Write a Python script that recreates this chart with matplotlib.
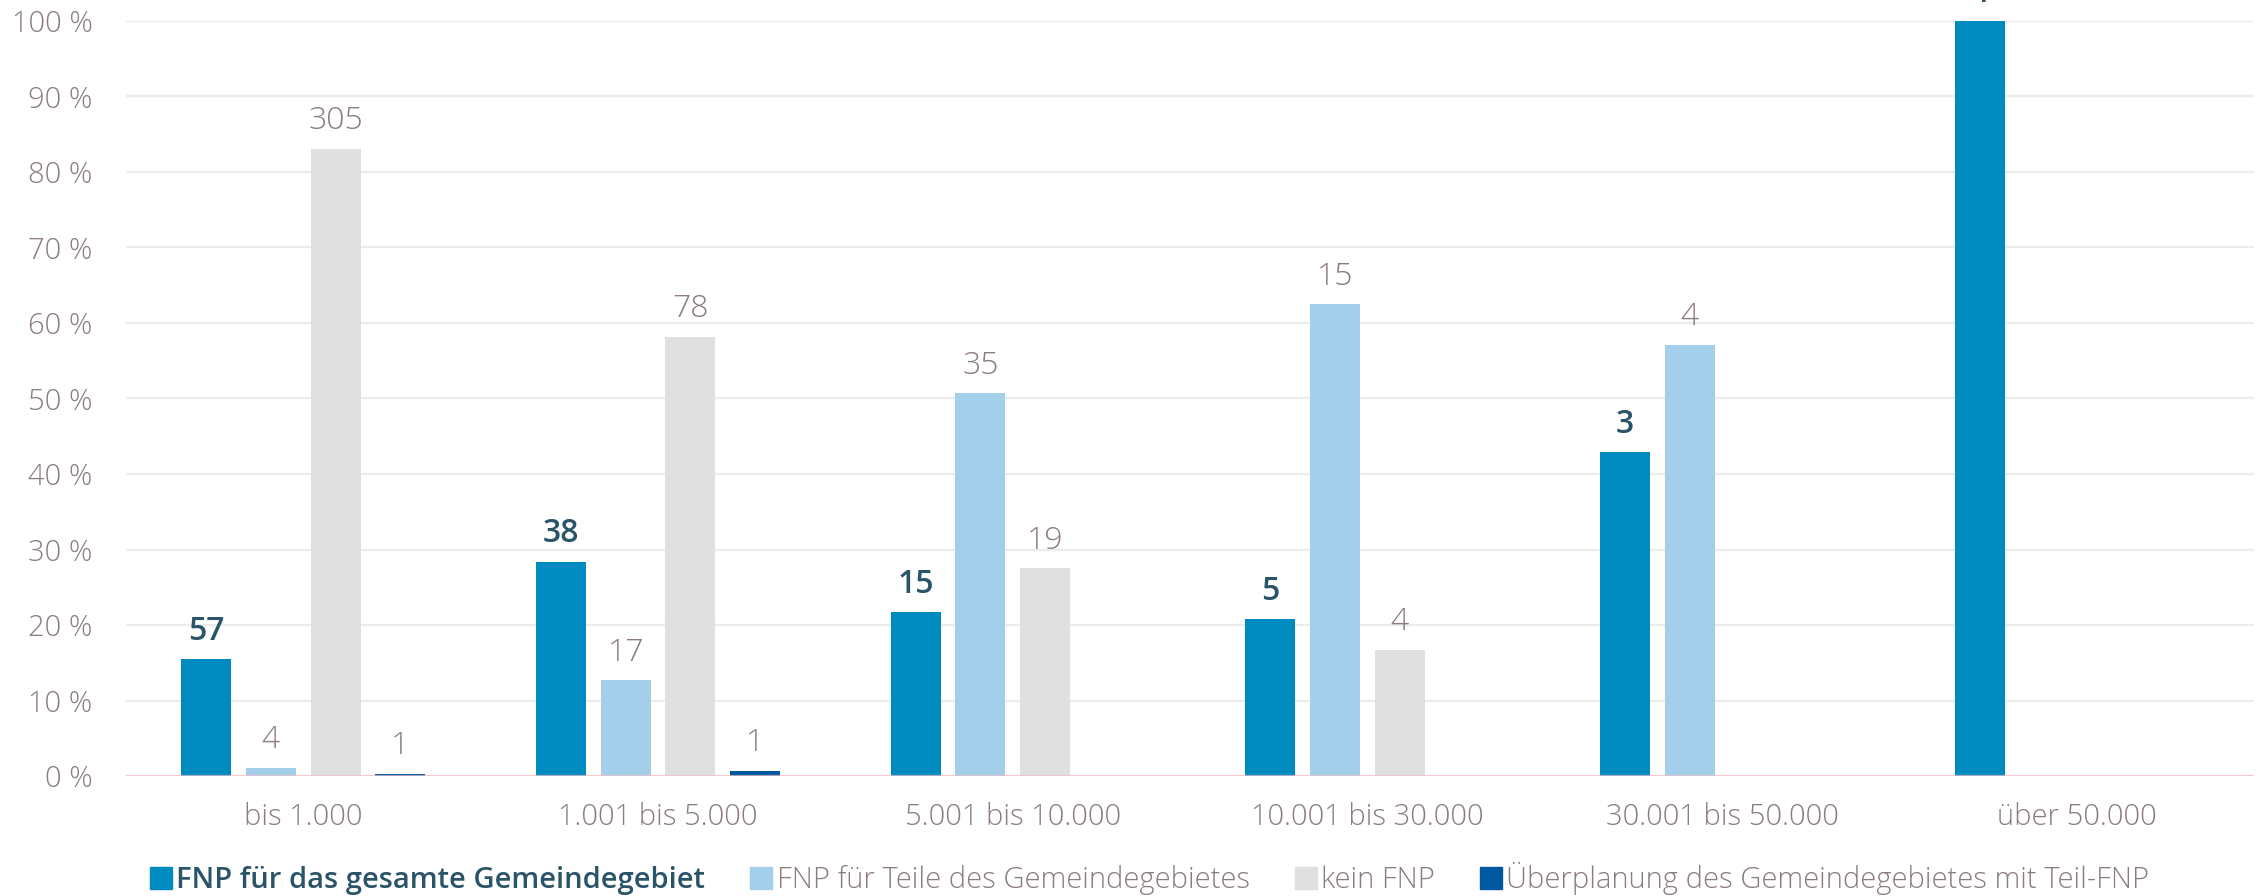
import matplotlib
matplotlib.use('Agg')
import matplotlib.pyplot as plt
from matplotlib.patches import Patch
import numpy as np

plt.rcParams['font.family'] = ['Open Sans', 'DejaVu Sans']

categories = ['bis 1.000', '1.001 bis 5.000', '5.001 bis 10.000',
              '10.001 bis 30.000', '30.001 bis 50.000', 'über 50.000']
series_names = ['FNP für das gesamte Gemeindegebiet',
                'FNP für Teile des Gemeindegebietes',
                'kein FNP',
                'Überplanung des Gemeindegebietes mit Teil-FNP']
# share in percent (bar heights)
pct_gesamt = [15.5, 28.4, 21.7, 20.8, 42.9, 100.0]
pct_teile = [1.1, 12.7, 50.7, 62.5, 57.1, 0.0]
pct_kein = [83.1, 58.2, 27.5, 16.7, 0.0, 0.0]
pct_ueber = [0.3, 0.7, 0.0, 0.0, 0.0, 0.0]
# counts (bar labels)
cnt_gesamt = [57, 38, 15, 5, 3, 4]
cnt_teile = [4, 17, 35, 15, 4, None]
cnt_kein = [305, 78, 19, 4, None, None]
cnt_ueber = [1, 1, None, None, None, None]
yticks = [0, 10, 20, 30, 40, 50, 60, 70, 80, 90, 100]

colors = ['#008BC0', '#A4CFEB', '#E0E0E0', '#0059A0']
dark = '#2A5467'
gray = '#8C7C7C'

W, H = 2264, 896
fig = plt.figure(figsize=(W / 100, H / 100), dpi=100)
ax = fig.add_axes([126 / W, 120 / H, 2128 / W, 755 / H])

x = np.arange(len(categories))
group_px = 2128 / 6
width = 50 / group_px
pitch = 64.7 / group_px

all_pct = [pct_gesamt, pct_teile, pct_kein, pct_ueber]
all_cnt = [cnt_gesamt, cnt_teile, cnt_kein, cnt_ueber]
for i, (vals, cnts, col) in enumerate(zip(all_pct, all_cnt, colors)):
    pos = x + (i - 1.5) * pitch
    ax.bar(pos, vals, width, color=col, zorder=2, linewidth=0)
    for p, v, c in zip(pos, vals, cnts):
        if c is None:
            continue
        if i == 0:
            ax.annotate(str(c), (p, v), xytext=(0, 14), textcoords='offset points',
                        ha='center', va='baseline', fontsize=23, color=dark,
                        fontweight='semibold', annotation_clip=False)
        else:
            ax.annotate(str(c), (p, v), xytext=(0, 14), textcoords='offset points',
                        ha='center', va='baseline', fontsize=23, color=gray,
                        fontweight='light', annotation_clip=False)

ax.set_xlim(-0.5, 5.5)
ax.set_ylim(0, 100)
ax.set_yticks(yticks)
ax.set_yticklabels([f'{v} %' for v in yticks])
ax.set_xticks(x)
ax.set_xticklabels(categories)
for s in ax.spines.values():
    s.set_visible(False)
ax.yaxis.grid(True, color='#ECECEF', lw=1.6)
ax.set_axisbelow(True)
ax.axhline(0, color='#F5BCC4', lw=1.6, alpha=0.7, zorder=3)
ax.tick_params(axis='y', length=0, labelsize=21, labelcolor=gray, pad=24)
ax.tick_params(axis='x', length=0, labelsize=21, labelcolor=gray, pad=19)
for t in ax.get_yticklabels() + ax.get_xticklabels():
    t.set_fontweight('light')

handles = [Patch(color=c) for c in colors]
leg = fig.legend(handles, series_names, loc='lower left',
                 bbox_to_anchor=(150 / W, 1 / H), ncol=4, frameon=False,
                 fontsize=21, handlelength=0.75, handleheight=0.75,
                 handletextpad=0.15, columnspacing=1.55, borderpad=0,
                 borderaxespad=0)
for i, t in enumerate(leg.get_texts()):
    if i == 0:
        t.set_color(dark)
        t.set_fontweight('semibold')
    else:
        t.set_color(gray)
        t.set_fontweight('light')

fig.savefig('out.png', dpi=100)
